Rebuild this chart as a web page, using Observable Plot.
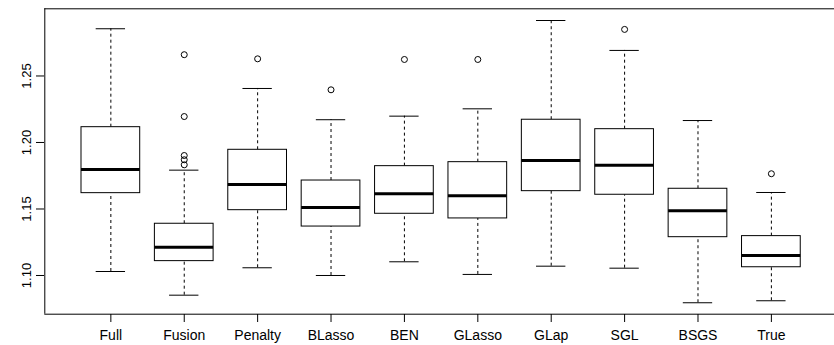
<!DOCTYPE html>
<html>
<head>
<meta charset="utf-8">
<script src="https://cdn.jsdelivr.net/npm/d3@7"></script>
<script src="https://cdn.jsdelivr.net/npm/@observablehq/plot@0.6"></script>
<style>
  html, body { margin: 0; padding: 0; background: #fff; overflow: hidden; }
  #chart svg { display: block; }
</style>
</head>
<body>
<div id="chart"></div>
<script>
const categories = ["Full","Fusion","Penalty","BLasso","BEN","GLasso","GLap","SGL","BSGS","True"];
const whiskerLow  = [1.1030, 1.0852, 1.1058, 1.1000, 1.1103, 1.1008, 1.1070, 1.1055, 1.0795, 1.0810];
const q1          = [1.1619, 1.1108, 1.1491, 1.1368, 1.1464, 1.1429, 1.1634, 1.1607, 1.1288, 1.1062];
const median      = [1.1797, 1.1213, 1.1684, 1.1511, 1.1614, 1.1599, 1.1865, 1.1829, 1.1486, 1.1150];
const q3          = [1.2115, 1.1389, 1.1945, 1.1714, 1.1822, 1.1852, 1.2171, 1.2100, 1.1652, 1.1296];
const whiskerHigh = [1.2855, 1.1792, 1.2406, 1.2171, 1.2198, 1.2253, 1.2917, 1.2692, 1.2165, 1.1624];
const outliers = [
  [],
  [1.2660, 1.2195, 1.1902, 1.1870, 1.1832],
  [1.2629],
  [1.2396],
  [1.2624],
  [1.2624],
  [],
  [1.2850],
  [],
  [1.1765]
];
const yTicks = [1.10, 1.15, 1.20, 1.25];

const boxes = categories.map((c, i) => ({
  pos: i + 1, name: c, lo: whiskerLow[i], q1: q1[i], med: median[i], q3: q3[i], hi: whiskerHigh[i]
}));
const outPts = outliers.flatMap((arr, i) => arr.map(v => ({pos: i + 1, v})));

const yDomain = [1.0709, 1.3005];
const xDomain = [0.1, 10.86];
const font = "'Liberation Sans', Arial, Helvetica, sans-serif";

const chart = Plot.plot({
  width: 834,
  height: 345,
  marginLeft: 44,
  marginRight: 0,
  marginTop: 8,
  marginBottom: 31,
  style: {fontFamily: font, fontSize: "12px", background: "#fff", color: "#000"},
  x: {domain: xDomain, range: [44.3, 834]},
  y: {domain: yDomain, range: [313.7, 8.3]},
  marks: [
    // frame (left, top, bottom)
    Plot.ruleX([xDomain[0]], {y1: yDomain[0], y2: yDomain[1], stroke: "#000"}),
    Plot.ruleY([yDomain[1]], {x1: xDomain[0], x2: xDomain[1], stroke: "#000"}),
    Plot.ruleY([yDomain[0]], {x1: xDomain[0], x2: xDomain[1], stroke: "#000"}),
    // whiskers
    Plot.ruleX(boxes, {x: "pos", y1: "q3", y2: "hi", stroke: "#000", strokeDasharray: "3,3"}),
    Plot.ruleX(boxes, {x: "pos", y1: "lo", y2: "q1", stroke: "#000", strokeDasharray: "3,3"}),
    // staples
    Plot.ruleY(boxes, {y: "hi", x1: d => d.pos - 0.2, x2: d => d.pos + 0.2, stroke: "#000"}),
    Plot.ruleY(boxes, {y: "lo", x1: d => d.pos - 0.2, x2: d => d.pos + 0.2, stroke: "#000"}),
    // boxes
    Plot.rect(boxes, {x1: d => d.pos - 0.4, x2: d => d.pos + 0.4, y1: "q1", y2: "q3", fill: "#fff", stroke: "#000", strokeWidth: 1}),
    // medians
    Plot.ruleY(boxes, {y: "med", x1: d => d.pos - 0.4, x2: d => d.pos + 0.4, stroke: "#000", strokeWidth: 3}),
    // outliers
    Plot.dot(outPts, {x: "pos", y: "v", r: 3, stroke: "#000", fill: "none", strokeWidth: 1}),
    // axes
    Plot.axisY(yTicks, {tickFormat: d3.format(".2f"), tickSize: 8, tickRotate: -90, tickPadding: 6, label: null, fontSize: 13}),
    Plot.axisX(d3.range(1, categories.length + 1), {tickFormat: d => categories[d - 1], tickSize: 8, tickPadding: 8, label: null, fontSize: 14})
  ]
});
document.getElementById("chart").appendChild(chart);
</script>
</body>
</html>
